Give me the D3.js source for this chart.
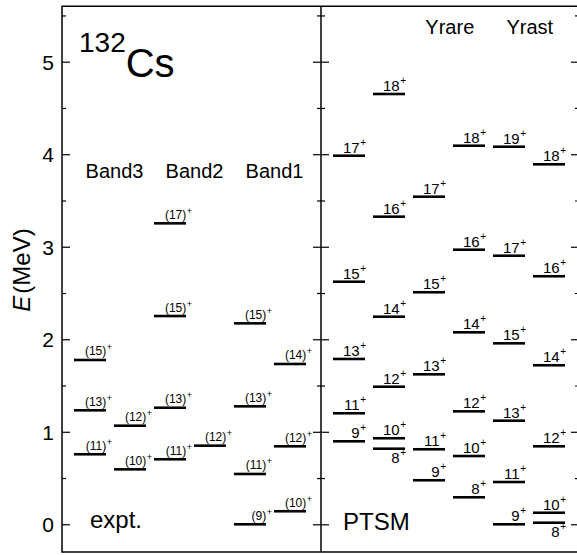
<!DOCTYPE html>
<html>
<head>
<meta charset="utf-8">
<script src="https://cdn.jsdelivr.net/npm/d3@7"></script>
<style>
  html, body { margin: 0; padding: 0; background: #fff; }
  svg { display: block; font-family: "Liberation Sans", Arial, Helvetica, sans-serif; }
  .tick line { stroke: #000; stroke-width: 1.2; }
</style>
</head>
<body>
<svg id="canvas" width="577" height="555"></svg>
<script>
// energy axis
var majorTicks = [0, 1, 2, 3, 4, 5];
var minorTicks = [0.5, 1.5, 2.5, 3.5, 4.5, 5.5];

// experiment: column, energy (MeV), spin (tentative, shown in brackets)
var exptColumn = [0, 0, 0, 1, 1, 2, 2, 2, 2, 3, 4, 4, 4, 4, 5, 5, 5];
var exptEnergy = [1.776, 1.232, 0.757, 1.066, 0.594, 3.253, 2.251, 1.260, 0.703, 0.850,
                  2.172, 1.275, 0.544, 0.000, 1.733, 0.843, 0.141];
var exptSpin   = [15, 13, 11, 12, 10, 17, 15, 13, 11, 12, 15, 13, 11, 9, 14, 12, 10];
var exptBands  = ['Band3', 'Band2', 'Band1'];

// PTSM calculation
var ptsmColumn = [0, 0, 0, 0, 0,  1, 1, 1, 1, 1, 1,  2, 2, 2, 2, 2,
                  3, 3, 3, 3, 3, 3,  4, 4, 4, 4, 4, 4,  5, 5, 5, 5, 5, 5];
var ptsmEnergy = [3.984, 2.622, 1.787, 1.200, 0.897,
                  4.651, 3.325, 2.244, 1.487, 0.930, 0.817,
                  3.541, 2.508, 1.621, 0.811, 0.476,
                  4.092, 2.968, 2.075, 1.221, 0.738, 0.292,
                  4.081, 2.903, 1.956, 1.120, 0.457, 0.000,
                  3.891, 2.681, 1.719, 0.843, 0.125, 0.017];
var ptsmSpin   = [17, 15, 13, 11, 9,
                  18, 16, 14, 12, 10, 8,
                  17, 15, 13, 11, 9,
                  18, 16, 14, 12, 10, 8,
                  19, 17, 15, 13, 11, 9,
                  18, 16, 14, 12, 10, 8];
var ptsmBands  = ['Yrare', 'Yrast'];

var frame = { left: 62, mid: 321, right: 579 };
var svg = d3.select('#canvas');

var y = d3.scaleLinear().domain([0, 5]).range([524.3, 61.7]);
var yTop = y(5.6), yBottom = y(-0.3);

// ---------------------------------------------------------------- //
// Axes and frame

var leftAxis = svg.append('g').attr('transform', 'translate(' + frame.left + ',0)')
  .call(d3.axisLeft(y).tickValues(majorTicks).tickSize(-8).tickPadding(8).tickFormat(d3.format('d')));
leftAxis.selectAll('text').style('font-size', '21px').attr('fill', '#000').attr('dy', '0.36em');
svg.append('g').attr('transform', 'translate(' + frame.left + ',0)')
  .call(d3.axisLeft(y).tickValues(minorTicks).tickSize(-4).tickFormat(''));

[[d3.axisLeft, 8, 4], [d3.axisRight, 8, 4]].forEach(function(a){
  svg.append('g').attr('transform', 'translate(' + frame.mid + ',0)')
    .call(a[0](y).tickValues(majorTicks).tickSize(a[1]).tickFormat(''));
  svg.append('g').attr('transform', 'translate(' + frame.mid + ',0)')
    .call(a[0](y).tickValues(minorTicks).tickSize(a[2]).tickFormat(''));
});

svg.append('g').attr('transform', 'translate(' + frame.right + ',0)')
  .call(d3.axisLeft(y).tickValues(majorTicks).tickSize(8).tickFormat(''));
svg.append('g').attr('transform', 'translate(' + frame.right + ',0)')
  .call(d3.axisLeft(y).tickValues(minorTicks).tickSize(4).tickFormat(''));

svg.selectAll('.domain').remove();

svg.append('path')
  .attr('d', 'M' + frame.left + ',' + yTop + 'H' + frame.right + 'V' + yBottom + 'H' + frame.left + 'Z')
  .attr('fill', 'none').attr('stroke', '#000').attr('stroke-width', 1.5);
svg.append('line')
  .attr('x1', frame.mid).attr('x2', frame.mid).attr('y1', yTop).attr('y2', yBottom)
  .attr('stroke', '#000').attr('stroke-width', 1.5);

// y title
var title = svg.append('text')
  .attr('transform', 'translate(30,270) rotate(-90)')
  .attr('text-anchor', 'middle').style('font-size', '24px');
title.append('tspan').text('E').style('font-style', 'italic');
title.append('tspan').text('(MeV)').attr('dx', 2);

// nucleus
var nucleus = svg.append('text').attr('x', 79).attr('y', 76.5);
nucleus.append('tspan').text('132').style('font-size', '28px').attr('dy', -25);
nucleus.append('tspan').text('Cs').style('font-size', '40px').attr('dy', 25);

// ---------------------------------------------------------------- //
// Level schemes

function drawLevels(panelLeft, column, energy, spin, opt){
  var x = d3.scaleBand().domain(d3.range(6))
    .range([panelLeft + 12, panelLeft + 244]).paddingInner(0.2).paddingOuter(0);

  var levels = energy.map(function(e, i){ return { col: column[i], e: e, spin: spin[i] }; });
  // a level sitting just under another one in the same column gets its label underneath
  levels.forEach(function(d){
    d.below = levels.some(function(o){ return o !== d && o.col === d.col && o.e > d.e && o.e - d.e < 0.2; });
  });

  var g = svg.append('g');
  g.selectAll('line').data(levels).join('line')
    .attr('x1', function(d){ return x(d.col); })
    .attr('x2', function(d){ return x(d.col) + x.bandwidth(); })
    .attr('y1', function(d){ return y(d.e); })
    .attr('y2', function(d){ return y(d.e); })
    .attr('stroke', '#000').attr('stroke-width', 2.6);

  var t = g.selectAll('text').data(levels).join('text')
    .attr('x', function(d){ return x(d.col) + x.bandwidth() + opt.dx; })
    .attr('y', function(d){ return y(d.e) + (d.below ? opt.below : opt.above); })
    .attr('text-anchor', 'end')
    .style('font-size', opt.size + 'px');
  t.append('tspan').text(function(d){ return opt.format(d.spin); });
  t.append('tspan').text('+').attr('dx', 0.5).attr('dy', -opt.sup).style('font-size', opt.supSize + 'px');

  // band titles centred over pairs of columns
  opt.bands.forEach(function(name, i){
    var c = opt.bandCols[i];
    svg.append('text')
      .attr('x', (x(c) + x(c + 1) + x.bandwidth()) / 2 + opt.bandShift)
      .attr('y', opt.bandY)
      .attr('text-anchor', 'middle').style('font-size', '20px')
      .text(name);
  });

  svg.append('text').attr('x', opt.tagX).attr('y', opt.tagY)
    .style('font-size', '24px').text(opt.tag);
}

drawLevels(frame.left, exptColumn, exptEnergy, exptSpin, {
  dx: 6, above: -4.5, below: 14.5, size: 12, sup: 5, supSize: 9,
  format: function(s){ return '(' + s + ')'; },
  bands: exptBands, bandCols: [0, 2, 4], bandShift: 4.5, bandY: 178.3,
  tag: 'expt.', tagX: 90, tagY: 528
});

drawLevels(frame.mid, ptsmColumn, ptsmEnergy, ptsmSpin, {
  dx: 1, above: -3, below: 14.6, size: 15, sup: 7, supSize: 10,
  format: function(s){ return s; },
  bands: ptsmBands, bandCols: [2, 4], bandShift: 0.8, bandY: 34.3,
  tag: 'PTSM', tagX: 343, tagY: 530
});
</script>
</body>
</html>
